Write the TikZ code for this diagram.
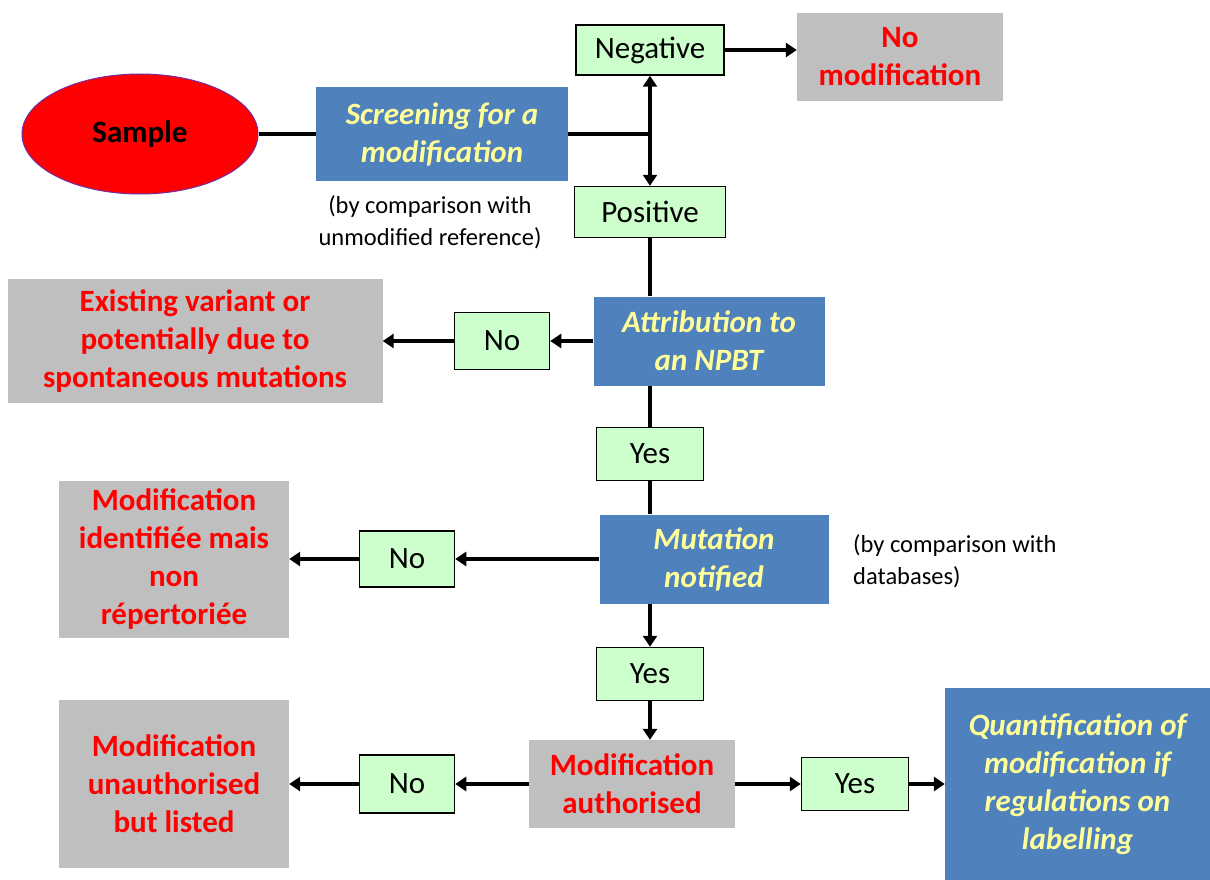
\documentclass[tikz,border=0pt]{standalone}
\usepackage{fontspec}
\setmainfont{Carlito}
\usetikzlibrary{shapes.geometric,arrows.meta}

\begin{document}
\begin{tikzpicture}[x=1pt,y=-1pt,
  answer/.style={draw=black,line width=1.5pt,fill=boxgreen,inner sep=0pt,font=\fontsize{31}{36}\selectfont},
  task/.style={fill=boxblue,inner sep=0pt,align=center,text=textyellow,font=\fontsize{31}{38}\selectfont\bfseries\itshape},
  result/.style={fill=boxgray,inner sep=0pt,align=center,text=red,font=\fontsize{31}{38}\selectfont\bfseries},
  note/.style={inner sep=0pt,font=\fontsize{24.5}{32}\selectfont},
  link/.style={line width=3.5pt},
  flow/.style={line width=3.5pt,-{Triangle[length=11pt,width=14pt]}}]
% Define flowchart colours
\definecolor{boxblue}{RGB}{79,129,189}
\definecolor{boxgray}{RGB}{191,191,191}
\definecolor{boxgreen}{RGB}{204,255,204}
\definecolor{textyellow}{RGB}{255,255,153}
\definecolor{ovalline}{RGB}{112,48,160}

\useasboundingbox (0,0) rectangle (1210,880);

% Screening step
\node[ellipse,draw=ovalline,line width=1pt,fill=red,minimum width=236pt,minimum height=120pt,inner sep=0pt,font=\fontsize{31}{36}\selectfont\bfseries] (sample) at (140,134) {Sample};
\node[task,minimum width=252pt,minimum height=93pt] (screen) at (442,134) {Screening for a\\modification};
\node[note,align=center] (screennote) at (430,222) {(by comparison with\\unmodified reference)};
\node[answer,minimum width=148pt,minimum height=50pt] (neg) at (650,50) {Negative};
\node[result,minimum width=206pt,minimum height=88pt] (nomod) at (900,57) {No\\modification};
\node[answer,minimum width=151pt,minimum height=51pt] (pos) at (650,212) {Positive};

% Attribution step
\node[task,minimum width=231pt,minimum height=89pt] (attr) at (709,341) {Attribution to\\an NPBT};
\node[answer,minimum width=95pt,minimum height=57pt] (no1) at (502,341) {No};
\node[result,minimum width=375pt,minimum height=124pt] (exist) at (195,341) {Existing variant or\\potentially due to\\spontaneous mutations};
\node[answer,minimum width=107pt,minimum height=53pt] (yes1) at (650,454) {Yes};

% Notification step
\node[task,minimum width=229pt,minimum height=89pt] (mut) at (714,559) {Mutation\\notified};
\node[note,align=left,anchor=west] (mutnote) at (853,561) {(by comparison with\\databases)};
\node[answer,minimum width=95pt,minimum height=56pt] (no2) at (407,559) {No};
\node[result,minimum width=230pt,minimum height=157pt] (ident) at (174,559) {Modification\\identifiée mais\\non\\répertoriée};
\node[answer,minimum width=107pt,minimum height=53pt] (yes2) at (650,674) {Yes};

% Authorisation step
\node[result,minimum width=206pt,minimum height=88pt] (auth) at (632,784) {Modification\\authorised};
\node[answer,minimum width=95pt,minimum height=58pt] (no3) at (407,784) {No};
\node[result,minimum width=230pt,minimum height=168pt] (unauth) at (174,784) {Modification\\unauthorised\\but listed};
\node[answer,minimum width=107pt,minimum height=53pt] (yes3) at (855,784) {Yes};
\node[task,minimum width=265pt,minimum height=192pt] (quant) at (1077.5,784) {Quantification of\\modification if\\regulations on\\labelling};

% Draw connectors
\coordinate (split) at (650,134);
\draw[link] (sample) -- (screen);
\draw[link] (screen) -- (split);
\draw[flow] (split) -- (neg);
\draw[flow] (split) -- (pos);
\draw[flow] (neg) -- (neg -| nomod.west);
\draw[link] (pos) -- (pos |- attr.north);
\draw[flow] (attr) -- (no1);
\draw[flow] (no1) -- (exist);
\draw[link] (yes1 |- attr.south) -- (yes1);
\draw[link] (yes1) -- (yes1 |- mut.north);
\draw[flow] (mut) -- (no2);
\draw[flow] (no2) -- (ident);
\draw[flow] (yes2 |- mut.south) -- (yes2);
\draw[flow] (yes2) -- (yes2 |- auth.north);
\draw[flow] (auth) -- (no3);
\draw[flow] (no3) -- (unauth);
\draw[flow] (auth) -- (yes3);
\draw[flow] (yes3) -- (quant);
\end{tikzpicture}
\end{document}
